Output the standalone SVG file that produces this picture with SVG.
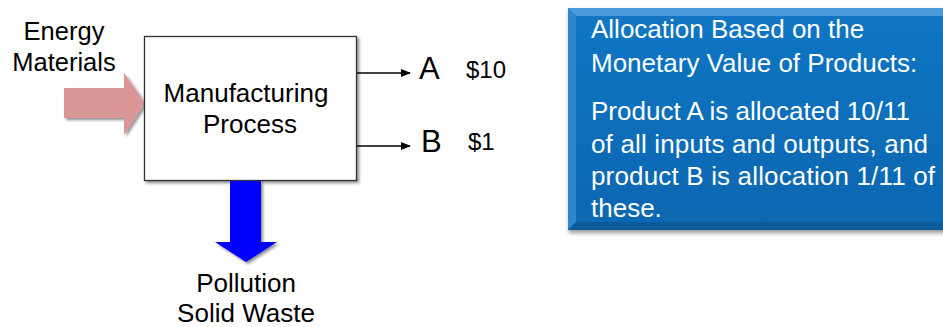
<svg xmlns="http://www.w3.org/2000/svg" width="943" height="327" viewBox="0 0 943 327">
<defs>
<style>
.t{font-family:"Liberation Sans",Arial,sans-serif;fill:#000;}
.w{font-family:"Liberation Sans",Arial,sans-serif;fill:#fff;font-size:26px;}
.ln{stroke:#000;stroke-width:1.3;fill:none;}
</style>
<filter id="sh" x="-10%" y="-10%" width="130%" height="130%">
<feDropShadow dx="2" dy="2" stdDeviation="1.5" flood-color="#000" flood-opacity="0.45"/>
</filter>
<filter id="sh2" x="-10%" y="-10%" width="130%" height="130%">
<feDropShadow dx="1" dy="3" stdDeviation="2" flood-color="#000" flood-opacity="0.4"/>
</filter>
<marker id="ah" markerWidth="10" markerHeight="8" refX="9" refY="4" orient="auto" markerUnits="userSpaceOnUse">
<path d="M0,0 L10,4 L0,8 Z" fill="#000"/>
</marker>
<linearGradient id="bg" x1="0" y1="0" x2="0" y2="1">
<stop offset="0" stop-color="#1276C4"/>
<stop offset="1" stop-color="#0A66B0"/>
</linearGradient>
</defs>

<g id="energy-arrow">
<polygon points="64,88 124,88 124,73 145,103 124,135 124,118 64,118" fill="#D99694" filter="url(#sh)"/>
</g>

<g id="energy-label">
<text class="t" font-size="25.5" x="64" y="40" text-anchor="middle">Energy</text>
<text class="t" font-size="25.5" x="64" y="71" text-anchor="middle">Materials</text>
</g>

<g id="process">
<rect x="144.5" y="36.5" width="212" height="144" fill="#fff" stroke="#333" stroke-width="1.3" filter="url(#sh)"/>
<text class="t" font-size="26" x="246" y="102" text-anchor="middle">Manufacturing</text>
<text class="t" font-size="26" x="250" y="133" text-anchor="middle">Process</text>
</g>

<g id="pollution-arrow">
<polygon points="230,181 261,181 261,242 277,242 246,262 215,242 230,242" fill="#0000FF" filter="url(#sh)"/>
</g>

<g id="pollution-label">
<text class="t" font-size="26" x="246" y="292" text-anchor="middle">Pollution</text>
<text class="t" font-size="26" x="246" y="322" text-anchor="middle">Solid Waste</text>
</g>

<g id="connectors">
<line class="ln" x1="357" y1="73" x2="410" y2="73" marker-end="url(#ah)"/>
<line class="ln" x1="357" y1="146" x2="410" y2="146" marker-end="url(#ah)"/>
</g>

<g id="product-a">
<text class="t" font-size="31" x="419" y="79">A</text>
<text class="t" font-size="24" x="466" y="78">$10</text>
</g>

<g id="product-b">
<text class="t" font-size="31" x="421" y="152">B</text>
<text class="t" font-size="24" x="468" y="150">$1</text>
</g>

<g id="allocation-box">
<rect x="568" y="8" width="385" height="222" fill="url(#bg)" filter="url(#sh2)"/>
<polygon points="568,8 953,8 945,16 576,16" fill="#4A9AD8"/>
<polygon points="568,8 576,16 576,222 568,230" fill="#2E86CC"/>
<polygon points="568,230 576,222 945,222 953,230" fill="#0A5A9C"/>
<text class="w" x="591" y="38">Allocation Based on the</text>
<text class="w" x="591" y="72">Monetary Value of Products:</text>
<text class="w" x="591" y="120">Product A is allocated 10/11</text>
<text class="w" x="591" y="153" textLength="337" lengthAdjust="spacing">of all inputs and outputs, and</text>
<text class="w" x="591" y="185" textLength="344" lengthAdjust="spacing">product B is allocation 1/11 of</text>
<text class="w" x="591" y="217">these.</text>
</g>
</svg>
